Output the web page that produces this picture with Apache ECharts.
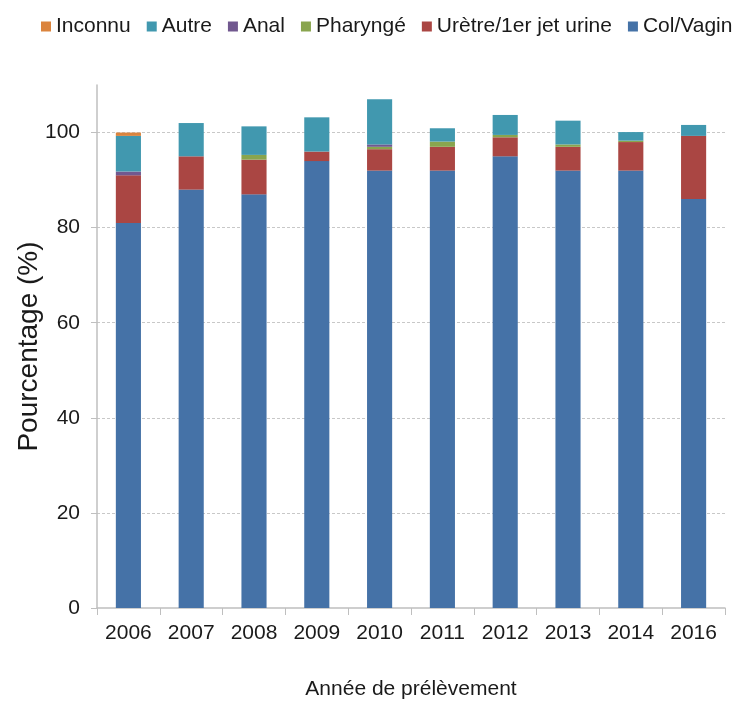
<!DOCTYPE html>
<html>
<head>
    <meta charset="utf-8"/>
    <style>
        html, body {
            height: 100%;
            margin: 0;
            padding: 0;
            background: #fff;
        }

        .container {
            width: 738px;
            height: 701px;
        }
    </style>
</head>

<body>
<div id="main" class="container"></div>
<script src="https://cdn.jsdelivr.net/npm/echarts@6/dist/echarts.min.js"></script>
<script type="text/javascript">
    // années de prélèvement
    var years = ['2006', '2007', '2008', '2009', '2010', '2011', '2012', '2013', '2014', '2016'];

    // valeurs en % par site de prélèvement
    var colVagin = [81, 88, 87, 94, 92, 92, 95, 92, 92, 86];
    var uretre = [10, 7, 7.3, 2, 4.5, 5, 4, 5, 6, 13.3];
    var pharynge = [0, 0, 1, 0, 0.5, 1.1, 0.5, 0.5, 0.3, 0];
    var anal = [0.8, 0, 0, 0, 0.5, 0, 0, 0, 0, 0];
    var autre = [7.5, 7, 6, 7.2, 9.5, 2.8, 4.2, 5, 1.8, 2.3];
    var inconnu = [0.7, 0, 0, 0, 0, 0, 0, 0, 0, 0];

    var yTicks = [0, 20, 40, 60, 80, 100];

    var font = '"Liberation Sans", Arial, sans-serif';
    var textColor = '#1a1a1a';
    var lineColor = '#bfbfbf';

    var myChart = echarts.init(document.getElementById('main'));

    function bar(name, data, color) {
        return {
            name: name,
            type: 'bar',
            stack: 'total',
            barWidth: '40%',
            data: data,
            itemStyle: {
                color: color
            }
        };
    }

    var option = {
        animation: false,
        textStyle: {fontFamily: font},
        legend: {
            top: 11,
            left: 36,
            icon: 'rect',
            itemWidth: 10,
            itemHeight: 10,
            itemGap: 16,
            selectedMode: false,
            textStyle: {
                fontFamily: font,
                fontSize: 21,
                color: textColor
            },
            data: ['Inconnu', 'Autre', 'Anal', 'Pharyngé', 'Urètre/1er jet urine', 'Col/Vagin']
        },
        grid: {
            left: 97,
            right: 13,
            top: 85,
            bottom: 93,
            containLabel: false,
            outerBoundsMode: 'none'
        },
        xAxis: {
            type: 'category',
            data: years,
            name: 'Année de prélèvement',
            nameLocation: 'middle',
            nameGap: 71,
            nameMoveOverlap: false,
            nameTextStyle: {
                fontFamily: font,
                fontSize: 21,
                color: textColor
            },
            axisLine: {lineStyle: {color: lineColor, width: 1.5}},
            axisTick: {show: true, length: 7, lineStyle: {color: lineColor}},
            axisLabel: {
                margin: 15,
                fontFamily: font,
                fontSize: 21,
                color: textColor
            }
        },
        yAxis: {
            type: 'value',
            min: 0,
            max: 110,
            interval: 20,
            name: 'Pourcentage (%)',
            nameLocation: 'middle',
            nameGap: 54,
            nameMoveOverlap: false,
            nameTextStyle: {
                fontFamily: font,
                fontSize: 28,
                color: textColor
            },
            axisLine: {show: true, lineStyle: {color: lineColor, width: 1.5}},
            axisTick: {show: true, length: 6, lineStyle: {color: lineColor}},
            axisLabel: {
                margin: 17,
                fontFamily: font,
                fontSize: 21,
                color: textColor,
                showMaxLabel: false,
                formatter: function (v) {
                    return yTicks.indexOf(v) >= 0 ? String(v) : '';
                }
            },
            splitLine: {
                show: true,
                showMinLine: false,
                showMaxLine: false,
                lineStyle: {color: '#c8c8c8', type: [3, 2]}
            }
        },
        series: [
            bar('Col/Vagin', colVagin, '#4572A7'),
            bar('Urètre/1er jet urine', uretre, '#AA4643'),
            bar('Pharyngé', pharynge, '#89A54E'),
            bar('Anal', anal, '#71588F'),
            bar('Autre', autre, '#4198AF'),
            bar('Inconnu', inconnu, '#DB843D')
        ]
    };

    myChart.setOption(option);
</script>
</body>
</html>
